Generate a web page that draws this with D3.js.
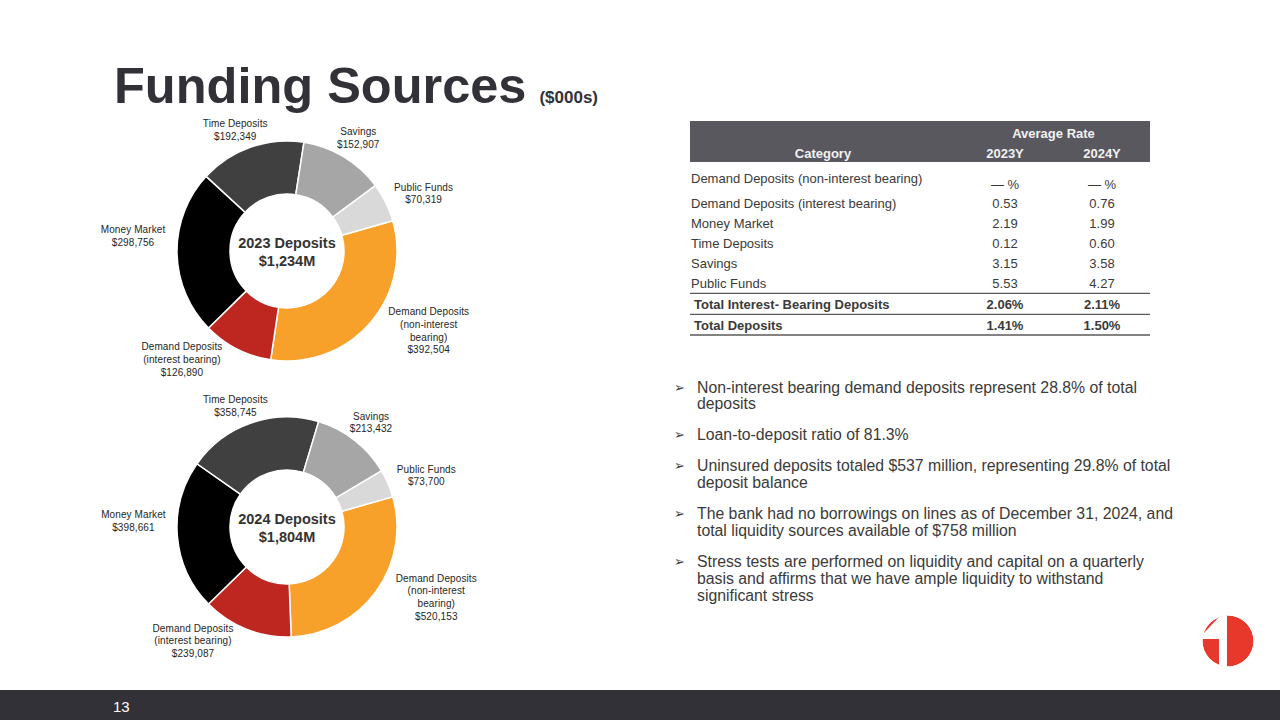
<!DOCTYPE html>
<html>
<head>
<meta charset="utf-8">
<script src="https://cdn.jsdelivr.net/npm/d3@7"></script>
<style>
  body { margin: 0; background: #fff; }
  svg { display: block; font-family: "Liberation Sans", Arial, sans-serif; }
</style>
</head>
<body>
<svg id="slide" width="1280" height="720"></svg>
<script>
// deposit mix, $000s
const categories = ["Demand Deposits (non-interest bearing)", "Demand Deposits (interest bearing)", "Money Market", "Time Deposits", "Savings", "Public Funds"];
const labelLines = [["Demand Deposits", "(non-interest", "bearing)"], ["Demand Deposits", "(interest bearing)"], ["Money Market"], ["Time Deposits"], ["Savings"], ["Public Funds"]];
const values2023 = [392504, 126890, 298756, 192349, 152907, 70319];
const values2024 = [520153, 239087, 398661, 358745, 213432, 73700];
const donutYears = ["2023", "2024"];
const donutTotals = ["$1,234M", "$1,804M"];

// average rate table
const rateYears = ["2023Y", "2024Y"];
const rate2023 = [null, 0.53, 2.19, 0.12, 3.15, 5.53];
const rate2024 = [null, 0.76, 1.99, 0.60, 3.58, 4.27];
const totalRows = ["Total Interest- Bearing Deposits", "Total Deposits"];
const total2023 = [2.06, 1.41];
const total2024 = [2.11, 1.50];

const bullets = [
    ["Non-interest bearing demand deposits represent 28.8% of total", "deposits"],
    ["Loan-to-deposit ratio of 81.3%"],
    ["Uninsured deposits totaled $537 million, representing 29.8% of total", "deposit balance"],
    ["The bank had no borrowings on lines as of December 31, 2024, and", "total liquidity sources available of $758 million"],
    ["Stress tests are performed on liquidity and capital on a quarterly", "basis and affirms that we have ample liquidity to withstand", "significant stress"]
];

const colors = ["#f7a12b", "#bd271f", "#000000", "#404040", "#a6a6a6", "#d9d9d9"],
    dark = "#333138",
    textColor = "#3a3a3a",
    firstSliceAngle = 74 * Math.PI / 180,
    outerR = 110,
    innerR = 57,
    donutX = 287;

// label offsets from the mid-angle point (excel-ish placement)
const labelNudge = [[44, -6], [-46, -7], [-24, -17], [-9, 2], [4, -2], [20, 0]];

const svg = d3.select("#slide");

// title
const title = svg.append("text")
    .attr("x", 114)
    .attr("y", 103)
    .attr("fill", dark)
    .attr("font-weight", "bold");
title.append("tspan").attr("font-size", "50.5px").text("Funding Sources");
title.append("tspan").attr("font-size", "17px").attr("dx", 13).text("($000s)");

// footer
svg.append("rect")
    .attr("x", 0).attr("y", 690)
    .attr("width", 1280).attr("height", 30)
    .attr("fill", dark);
svg.append("text")
    .attr("x", 113).attr("y", 712)
    .attr("fill", "#fff")
    .attr("font-size", "15px")
    .text("13");

/******************** donuts ********************/
const pie = d3.pie()
    .sort(null)
    .startAngle(firstSliceAngle)
    .endAngle(firstSliceAngle + 2 * Math.PI);

const arc = d3.arc().innerRadius(innerR).outerRadius(outerR);
const labelArc = d3.arc().innerRadius(130).outerRadius(130);
const money = d3.format("$,");

function drawDonut(values, cy, year, total) {
    const g = svg.append("g")
        .attr("transform", "translate(" + donutX + "," + cy + ")");

    const slices = pie(values);

    g.selectAll("path")
        .data(slices)
        .join("path")
        .attr("d", arc)
        .attr("fill", (d, i) => colors[i])
        .attr("stroke", "#fff")
        .attr("stroke-width", 1.5);

    slices.forEach((d, i) => {
        const c = labelArc.centroid(d);
        const lines = labelLines[i].concat([money(values[i])]);
        const lh = 12.8;
        const bx = c[0] + labelNudge[i][0],
            by = c[1] + labelNudge[i][1];
        const t = g.append("text")
            .attr("text-anchor", "middle")
            .attr("font-size", "10px")
            .attr("letter-spacing", "0.1px")
            .attr("fill", "#262626");
        lines.forEach((line, j) => {
            t.append("tspan")
                .attr("x", bx)
                .attr("y", by - (lines.length - 1) * lh / 2 + j * lh + 3.5)
                .text(line);
        });
    });

    const center = g.append("text")
        .attr("text-anchor", "middle")
        .attr("font-size", "14.5px")
        .attr("font-weight", "bold")
        .attr("fill", "#333333");
    center.append("tspan").attr("x", 0).attr("y", -3.5).text(year + " Deposits");
    center.append("tspan").attr("x", 0).attr("y", 14.5).text(total);
}

drawDonut(values2023, 251, donutYears[0], donutTotals[0]);
drawDonut(values2024, 527, donutYears[1], donutTotals[1]);

/******************** rate table ********************/
const tableLeft = 690,
    tableRight = 1150,
    colX = [1005, 1102],
    fontSize = "13px",
    lineColor = "#5a5a5a",
    rateFmt = v => v === null ? "— %" : d3.format(".2f")(v),
    pctFmt = v => d3.format(".2f")(v) + "%";

svg.append("rect")
    .attr("x", tableLeft).attr("y", 121)
    .attr("width", tableRight - tableLeft).attr("height", 41)
    .attr("fill", "#59585e");

svg.append("text")
    .attr("x", (colX[0] + colX[1]) / 2).attr("y", 137.5)
    .attr("text-anchor", "middle")
    .attr("font-size", fontSize).attr("font-weight", "bold")
    .attr("fill", "#f2f2f2")
    .text("Average Rate");

svg.append("text")
    .attr("x", 823).attr("y", 158)
    .attr("text-anchor", "middle")
    .attr("font-size", fontSize).attr("font-weight", "bold")
    .attr("fill", "#f2f2f2")
    .text("Category");

rateYears.forEach((y, k) => {
    svg.append("text")
        .attr("x", colX[k]).attr("y", 158)
        .attr("text-anchor", "middle")
        .attr("font-size", fontSize).attr("font-weight", "bold")
        .attr("fill", "#f2f2f2")
        .text(y);
});

const rowY = d3.scaleLinear().domain([1, 5]).range([207.5, 287.5]);

categories.forEach((cat, i) => {
    const y = i === 0 ? rowY(1) - 25 : rowY(i);
    const vy = i === 0 ? rowY(1) - 18.5 : rowY(i);
    svg.append("text")
        .attr("x", tableLeft + 1).attr("y", y)
        .attr("font-size", fontSize).attr("fill", textColor)
        .text(cat);
    [rate2023[i], rate2024[i]].forEach((v, k) => {
        svg.append("text")
            .attr("x", colX[k]).attr("y", vy)
            .attr("text-anchor", "middle")
            .attr("font-size", fontSize).attr("fill", textColor)
            .text(rateFmt(v));
    });
});

const totalY = [308.5, 329.5];
[293.3, 314.3, 335].forEach(y => {
    svg.append("line")
        .attr("x1", tableLeft).attr("x2", tableRight)
        .attr("y1", y).attr("y2", y)
        .attr("stroke", lineColor).attr("stroke-width", 1.3);
});
totalRows.forEach((name, i) => {
    svg.append("text")
        .attr("x", tableLeft + 4).attr("y", totalY[i])
        .attr("font-size", fontSize).attr("font-weight", "bold").attr("fill", textColor)
        .text(name);
    [total2023[i], total2024[i]].forEach((v, k) => {
        svg.append("text")
            .attr("x", colX[k]).attr("y", totalY[i])
            .attr("text-anchor", "middle")
            .attr("font-size", fontSize).attr("font-weight", "bold").attr("fill", textColor)
            .text(pctFmt(v));
    });
});

/******************** bullets ********************/
let by = 392.5;
const bulletLine = 16.8,
    paraGap = 14.2;
bullets.forEach(lines => {
    svg.append("text")
        .attr("x", 674).attr("y", by - 1)
        .attr("font-family", "DejaVu Sans")
        .attr("font-size", "13px")
        .attr("fill", textColor)
        .text("➢");
    lines.forEach((line, j) => {
        svg.append("text")
            .attr("x", 697).attr("y", by + j * bulletLine)
            .attr("font-size", "15.8px")
            .attr("fill", textColor)
            .text(line);
    });
    by += lines.length * bulletLine + paraGap;
});

/******************** logo ********************/
const logo = svg.append("g").attr("transform", "translate(1228,641)");
logo.append("clipPath").attr("id", "logoClip")
    .append("circle").attr("r", 25.5);
const lg = logo.append("g").attr("clip-path", "url(#logoClip)");
lg.append("circle").attr("r", 25.5).attr("fill", "#e8382c");
lg.append("rect")
    .attr("x", -9).attr("y", -27)
    .attr("width", 8).attr("height", 54)
    .attr("fill", "#fff");
lg.append("path")
    .attr("d", "M-9,-24 L-9,-2 L-28,-2 L-28,-4 Z")
    .attr("fill", "#fff");
</script>
</body>
</html>
